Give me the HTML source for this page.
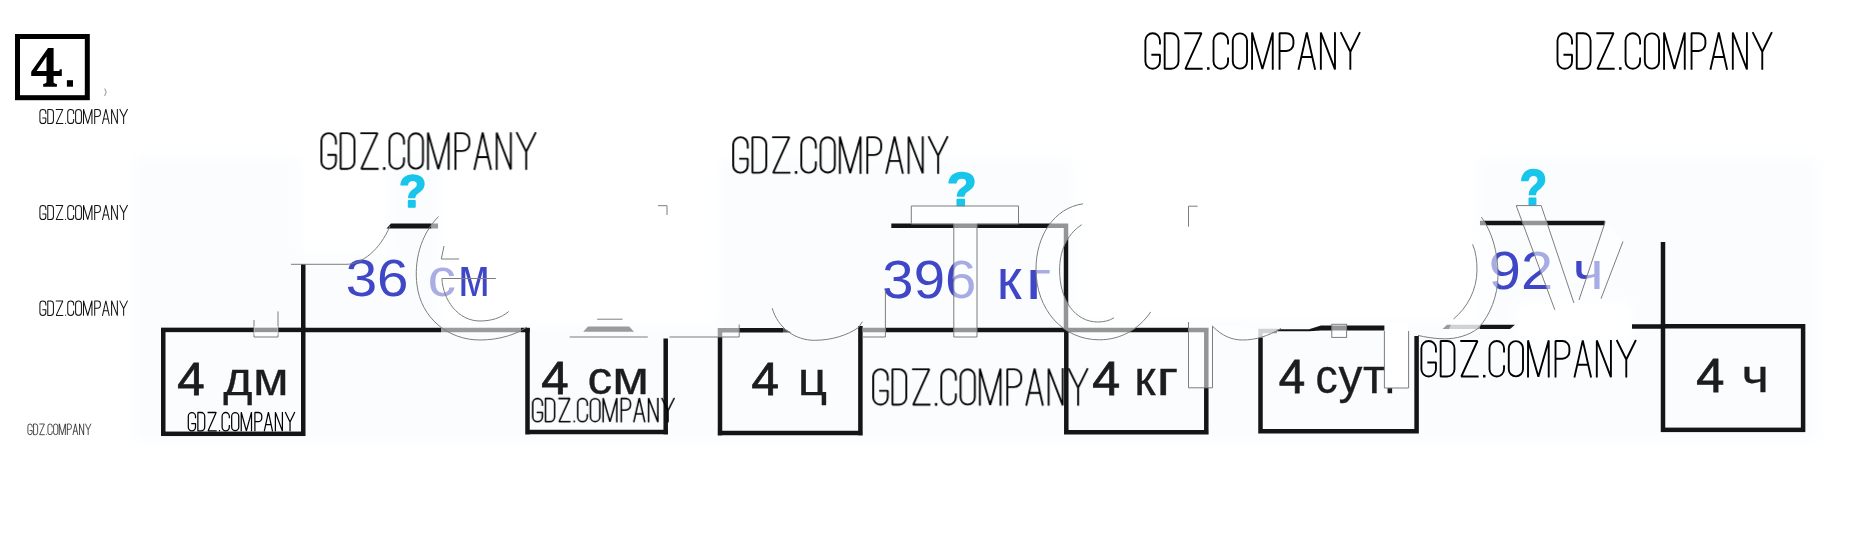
<!DOCTYPE html>
<html><head><meta charset="utf-8"><title>4</title>
<style>
html,body{margin:0;padding:0;background:#fff;overflow:hidden}
svg{display:block}
text{font-family:"Liberation Sans",sans-serif}
.lbl{font-size:46px;fill:#1d1d1d;stroke:#1d1d1d;stroke-width:0.8px}
.lb2{font-size:46px;fill:#1d1d1d;stroke:#1d1d1d;stroke-width:0.3px}
.blu{font-size:52px;fill:#3f47c6}
.q{font-size:46px;font-weight:bold;fill:#17c6ea;stroke:#17c6ea;stroke-width:1.6px;stroke-linejoin:round}
.num{font-family:"Liberation Serif",serif;font-weight:bold;font-size:58px;fill:#000}
.k{stroke:#151515;stroke-width:4.5;fill:none}
.gk{stroke:#9b9b9b;stroke-width:4.5;fill:none}
.g{stroke:#7d7d7d;stroke-width:1;fill:none}
.ov{fill:#fff;fill-opacity:.55;stroke:#7d7d7d;stroke-width:1}
</style></head><body>
<svg width="1876" height="545" viewBox="0 0 1876 545">
<defs>
<g id="wm" fill="none" stroke-linejoin="bevel">
<path d="M41.35 33V22A19.35 19.35 0 0 0 2.65 22V78A19.35 19.35 0 0 0 41.35 78V60H18.5"/>
<path d="M53.95 2.65V97.35H71.4A19.35 19.35 0 0 0 90.75 78V22A19.35 19.35 0 0 0 71.4 2.65Z"/>
<path d="M106.2 2.65H152L109 97.35H155"/>
<path d="M170 93V100" stroke-width="6.5"/>
<path d="M222.65 33V22A19.35 19.35 0 0 0 183.95 22V78A19.35 19.35 0 0 0 222.65 78V67"/>
<path d="M235.25 22A18.95 18.95 0 0 1 273.15 22V78A18.95 18.95 0 0 1 235.25 78Z"/>
<path d="M286.55 100V1L314.1 98L341.65 1V100"/>
<path d="M359.75 100V2.65H378A18.65 18.65 0 0 1 396.65 21.3V31.3A18.65 18.65 0 0 1 378 50H359.75"/>
<path d="M410 100L432.25 1L454.5 100M417.5 66H447"/>
<path d="M469.65 100V1L507.25 99V0"/>
<path d="M522.5 0L548.15 52L573.8 0M548.15 51V100"/>
</g>
<filter id="bl" x="-5%" y="-20%" width="110%" height="140%"><feGaussianBlur stdDeviation="7"/></filter>
</defs>
<!-- faint scan tint -->
<g filter="url(#bl)"><rect x="133" y="158" width="1685" height="282" fill="#fafcfe"/>
<path d="M438 150H720V326H438Z M1075 150H1478V322H1075Z M1515 300H1632V345H1515Z M300 150H390V255H300Z" fill="#fff"/></g>

<!-- task number -->
<rect x="17.5" y="36.5" width="69.8" height="61.2" fill="#fff" stroke="#000" stroke-width="5"/>
<path fill="#000" fill-rule="evenodd" d="M48 48H53.6V70.9H59.2L59.9 69.3H61.8V75.9H53.6V82.3Q53.6 83.6 56.9 84V86.7H43.2V84Q46.5 83.6 46.5 82.3V75.9H31.2V71.7ZM46.5 56.6V70.9H36.6Z"/>
<rect x="66.9" y="80.2" width="6.1" height="6.5" fill="#000"/>

<path d="M104.6 88.5L106.2 92L104.6 96" stroke="#aaa" stroke-width="1.2" fill="none"/>
<!-- ===== group 1 lines ===== -->
<rect class="k" x="163.25" y="329.9" width="140" height="103.9"/>
<path class="k" d="M303.25 264V330"/>
<path class="k" d="M305 330H441"/>
<path class="gk" d="M441 330H521"/>
<path class="k" d="M521 330H529.75"/>
<path class="k" d="M527.5 328V434.4M525.25 432.1H668M665.7 338.4V434.4"/>
<path d="M386.5 228.5L391 223.5H431.5V228.5Z" fill="#151515"/>
<path d="M431.5 223.5H438V228.5H431.5Z" fill="#9b9b9b"/>

<!-- ===== group 2 lines ===== -->
<path class="gk" d="M720 328V337M717.7 330.3H739"/>
<path class="k" d="M720 337V435.4M717.7 433.1H862.7M860.4 326V435.4M739 330.3H783"/>
<path d="M783 328L791.4 332.6H783Z" fill="#555"/>
<path class="gk" d="M862.6 330H885.4"/>
<path class="k" d="M885.4 330H1066"/>
<path class="k" d="M891.3 225.7H1068.2M1066 224V330"/>
<path class="k" d="M1066.3 328V434.5M1064 432.2H1208.6M1206.3 328V434.5M1064 330H1208.6"/>

<!-- ===== group 3 lines ===== -->
<path class="gk" d="M1260.5 329V337.4M1258.3 331H1277"/>
<path class="k" d="M1260.5 337.4V433.6M1258.3 431.3H1418.8M1416.6 336V433.6"/>
<path d="M1277 329.3H1309L1321 325.5H1394L1400 330.5H1321L1309 331.3H1277Z" fill="#151515"/>
<path d="M1442.5 329L1447 324.8H1480V329Z" fill="#9b9b9b"/>
<path d="M1480 324.8H1515L1510 329H1480Z" fill="#151515"/>
<path class="k" d="M1480 223H1604.7"/>
<path class="k" d="M1632 326.5H1663M1663 242V327"/>
<rect class="k" x="1663" y="326.25" width="140.1" height="103.6"/>

<g opacity="0.999">
<text class="lbl" transform="translate(177.23 395.40) scale(1.0708 1.0121)">4</text>
<text class="lb2" transform="translate(223.30 395.40) scale(1.0923 1.0040)">д</text>
<text class="lb2" transform="translate(252.92 395.40) scale(1.1269 1.0040)">м</text>
<text class="lbl" transform="translate(541.33 394.10) scale(1.0708 1.0182)">4</text>
<text class="lb2" transform="translate(587.44 394.10) scale(1.0800 0.9920)">с</text>
<text class="lb2" transform="translate(612.32 394.10) scale(1.1615 0.9920)">м</text>
<text class="lbl" transform="translate(751.53 394.50) scale(1.0708 1.0121)">4</text>
<text class="lb2" transform="translate(797.85 394.50) scale(1.1174 1.0080)">ц</text>
<text class="lbl" transform="translate(1092.31 394.50) scale(1.0917 1.0303)">4</text>
<text class="lb2" transform="translate(1134.22 394.50) scale(1.0588 1.0440)">к</text>
<text class="lb2" transform="translate(1156.60 394.50) scale(1.3000 1.0440)">г</text>
<text class="lbl" transform="translate(1278.77 393.20) scale(1.0333 1.0273)">4</text>
<text class="lb2" transform="translate(1315.47 393.20) scale(0.9650 1.0280)">с</text>
<text class="lb2" transform="translate(1338.50 393.20) scale(1.0391 1.0280)">у</text>
<text class="lb2" transform="translate(1363.12 393.20) scale(1.0750 1.0280)">т</text>
<text class="lb2" transform="translate(1383.66 393.20) scale(0.9600 1.0400)">.</text>
<text class="lbl" transform="translate(1696.30 391.80) scale(1.1000 1.0424)">4</text>
<text class="lb2" transform="translate(1741.47 391.80) scale(1.1444 1.0080)">ч</text>
<text class="blu" transform="translate(345.63 295.80) scale(1.0870 0.9946)">36</text>
<text class="blu" transform="translate(427.83 295.80) scale(1.0870 0.9929)" style="fill:#a9ade3">с</text>
<text class="blu" transform="translate(458.35 296.40) scale(0.8833 1.0519)">м</text>
<text class="blu" transform="translate(882.34 298.40) scale(1.0819 1.0405)">396</text>
<text class="blu" transform="translate(996.63 299.00) scale(1.0900 1.0852)">к</text>
<text class="blu" transform="translate(1025.54 299.00) scale(1.3867 1.0852)">г</text>
<text class="blu" transform="translate(1488.78 288.70) scale(1.1111 1.0405)">92</text>
<text class="blu" transform="translate(1572.87 289.30) scale(1.1429 1.0333)">ч</text>
<text class="q" transform="translate(399.02 207.00) scale(0.9760 1.0152)">?</text>
<text class="q" transform="translate(947.05 206.00) scale(1.0520 1.0424)">?</text>
<text class="q" transform="translate(1519.73 205.00) scale(0.9720 1.0909)">?</text>
</g>

<!-- ===== semi-transparent watermark bodies ===== -->
<!-- U rect on box1 top -->
<path d="M254 320V337H278V311.4" class="g"/>
<rect x="254" y="326" width="24" height="9" fill="#fff" fill-opacity=".55"/>
<!-- T -->
<path class="ov" d="M911.3 206H1018.5V224H977V337H953.8V224H911.3Z"/>
<!-- C2 -->
<path class="ov" d="M1083 203.8C1054 208 1036 236 1036 269C1036 310 1063 339.8 1099.3 339.8C1121 339.8 1139 329 1150.7 311.9L1114 317.8C1110 320.5 1104 322 1097.8 322C1075 322 1059.6 300 1059.6 270C1059.6 252 1066 235 1081.7 224.7Z" style="stroke:none"/>
<path class="g" d="M1083 203.8C1054 208 1036 236 1036 269C1036 310 1063 339.8 1099.3 339.8C1121 339.8 1139 329 1150.7 311.9M1114 317.8C1110 320.5 1104 322 1097.8 322C1075 322 1059.6 300 1059.6 270C1059.6 252 1066 235 1081.7 224.7"/>
<!-- I rect -->
<rect x="1188.5" y="322" width="24" height="65.8" fill="#fff" fill-opacity=".55"/>
<path class="g" d="M1188.5 322V387.8H1212.5V326M1188.5 226.7V206.2H1197.7"/>
<!-- arc between box4 and box5 -->
<path d="M1212.3 326C1222 336 1232 340 1242.6 340C1256 340 1268 336 1281 328.4Z" fill="#fff" fill-opacity=".55"/>
<path class="g" d="M1212.3 326C1222 336 1232 340 1242.6 340C1256 340 1268 336 1281 328.4"/>
<!-- small rects on box5 top -->
<rect x="1331.8" y="324.3" width="14.8" height="13.1" class="ov"/>
<rect x="1384.4" y="323" width="24.2" height="65" fill="#fff"/>
<path class="g" d="M1384.4 331V388H1408.6V331"/>
<!-- O right side -->
<path d="M1481.4 217C1492 232 1498 252 1498 275C1498 296 1490 315 1478.5 328C1468 336 1456 338.3 1444.7 338.3L1453.5 319C1467 308 1477 290 1477 270C1477 261 1476 252 1472.6 244.3Z" fill="#fff" fill-opacity=".55"/>
<path class="g" d="M1481.4 217C1492 232 1498 252 1498 275C1498 296 1490 315 1478.5 328C1468 336 1456 338.8 1444.7 338.8C1434 338.8 1425 337 1418 335.4M1472.6 244.3C1476 252 1477 261 1477 270C1477 290 1467 308 1453.5 319"/>
<!-- V -->
<path d="M1516.2 205.6H1541.2L1576 308L1557 315Z" fill="#fff" fill-opacity=".55"/>
<path d="M1579 300L1605.3 221.7L1623 241.4L1601 298.7Z" fill="#fff" fill-opacity=".55"/>
<path class="g" d="M1554.8 309.8L1516.2 205.6H1541.2L1573.9 303M1579 300L1605.3 221.7M1601 298.7L1623 241.4"/>

<!-- ===== thin gray outlines ===== -->
<path class="g" d="M291 264.3H347C362 264 380 250 390 226"/>
<path class="g" d="M438.6 216.5C420 235 414 262 417 285C421 318 448 340 480 340C500 340 517 334 527 327"/>
<path class="g" d="M441.9 278.5H495.8M441.9 278.5C443 300 458 321 480 321C491 321 501 318 508.8 311.5M444 246L441.3 259H459"/>
<path class="g" d="M658 205.7H667V215"/>
<path d="M588 326.5H629.2L634 331.8H583.2Z" fill="#9b9b9b"/>
<path class="g" d="M597.2 319.2H622.5M569.7 337H647.8M669.5 337H739.2V324.5"/>
<path class="g" d="M772.2 308.2C778 328 795 340.3 814.4 340.3C832 340.3 848 335 858.6 327.4L862.4 321.7"/>
<path class="g" d="M885.4 290V337H862"/>

<!-- ===== GDZ.COMPANY watermarks ===== -->
<g stroke="#000" stroke-width="5">
<use href="#wm" transform="translate(1144.4 32.2) scale(0.3757 0.376)"/>
<use href="#wm" transform="translate(1556.5 32.2) scale(0.3754 0.376)"/>
<use href="#wm" transform="translate(320.4 132.2) scale(0.3754 0.376)"/>
<use href="#wm" transform="translate(732.2 136.2) scale(0.3756 0.375)"/>
<use href="#wm" transform="translate(872.2 368.3) scale(0.3756 0.374)"/>
<use href="#wm" transform="translate(1420.4 340) scale(0.3756 0.375)"/>
<use href="#wm" stroke-width="6.2" transform="translate(532 397.8) scale(0.248 0.244)"/>
<use href="#wm" stroke-width="6.6" transform="translate(187.8 412) scale(0.1865 0.193)"/>
</g>
<g stroke="#111" stroke-width="6.6">
<use href="#wm" transform="translate(39.5 109) scale(0.1535 0.15)"/>
<use href="#wm" transform="translate(39.5 205) scale(0.1535 0.15)"/>
<use href="#wm" transform="translate(39.5 300.6) scale(0.1535 0.152)"/>
<use href="#wm" transform="translate(27.6 423.7) scale(0.1105 0.113)"/>
</g>
</svg>

</body></html>
